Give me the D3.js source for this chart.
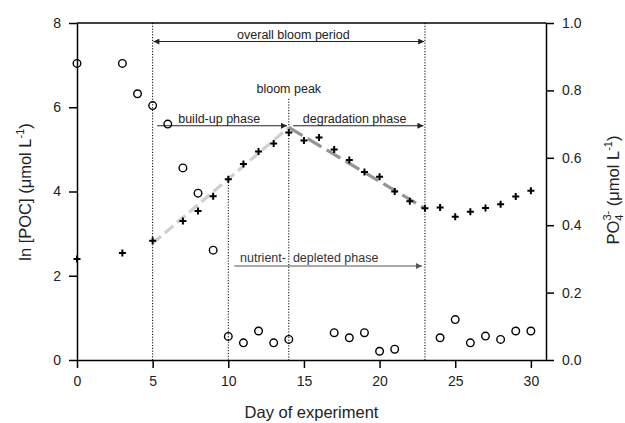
<!DOCTYPE html>
<html><head><meta charset="utf-8">
<script src="https://cdn.jsdelivr.net/npm/d3@7"></script>
<style>body{margin:0;background:#fff}svg{display:block}text{font-family:"Liberation Sans",Arial,sans-serif}</style>
</head><body>
<script>
// ---- data ----
const poDays = [0,3,4,5,6,7,8,9,10,11,12,13,14,17,18,19,20,21,24,25,26,27,28,29,30];
const poValues = [0.88,0.88,0.79,0.755,0.70,0.57,0.495,0.326,0.070,0.051,0.086,0.051,0.061,0.081,0.066,0.081,0.026,0.032,0.066,0.12,0.051,0.071,0.061,0.086,0.086];
const pocDays = [0,3,5,7,8,9,10,11,12,13,14,15,16,17,18,19,20,21,22,23,24,25,26,27,28,29,30];
const pocValues = [2.40,2.54,2.83,3.30,3.54,3.89,4.29,4.65,4.95,5.14,5.40,5.21,5.28,5.00,4.75,4.46,4.35,4.00,3.77,3.60,3.62,3.40,3.52,3.61,3.70,3.88,4.02];
const buildUpFit = [[5,2.77],[14,5.52]];
const degradationFit = [[14,5.52],[23,3.60]];
const xTicks = [0,5,10,15,20,25,30];
const yLeftTicks = [0,2,4,6,8];
const yRightTicks = [0,0.2,0.4,0.6,0.8,1.0];
// phase markers: [day, top value on left axis]
const phaseLines = [[5,8],[10,4.29],[14,6.2],[23,8]];

const W=625,H=423;
const svg=d3.select("body").append("svg").attr("width",W).attr("height",H);
const x=d3.scaleLinear().domain([0,31]).range([77,546]);
const yL=d3.scaleLinear().domain([0,8]).range([360,23]);
const yR=d3.scaleLinear().domain([0,1]).range([360,23]);

const defs=svg.append("defs");
function marker(id,color){
  defs.append("marker").attr("id",id).attr("viewBox","0 0 10 10").attr("refX",10).attr("refY",5)
   .attr("markerWidth",7).attr("markerHeight",6).attr("markerUnits","userSpaceOnUse").attr("orient","auto-start-reverse")
   .append("path").attr("d","M0,0L10,5L0,10Z").attr("fill",color);
}
marker("ah","#222");
marker("ahg","#555");

// phase dotted lines
svg.append("g").selectAll("line").data(phaseLines).join("line")
  .attr("x1",d=>x(d[0])).attr("x2",d=>x(d[0])).attr("y1",d=>yL(d[1])).attr("y2",yL(0))
  .attr("stroke","#000").attr("stroke-width",1).attr("stroke-dasharray","1.2,1.6");

// fits
const line=d3.line().x(d=>x(d[0])).y(d=>yL(d[1]));
svg.append("path").datum(buildUpFit).attr("d",line).attr("fill","none").attr("stroke","#cfcfcf").attr("stroke-width",3.2).attr("stroke-dasharray","11,5");
svg.append("path").datum(degradationFit).attr("d",line).attr("fill","none").attr("stroke","#959595").attr("stroke-width",3.2).attr("stroke-dasharray","16,6");

// annotations
function arrow(x1,x2,y,both,color,mk){
  const l=svg.append("line").attr("x1",x(x1)).attr("x2",x(x2)).attr("y1",yL(y)).attr("y2",yL(y))
   .attr("stroke",color).attr("stroke-width",1.1).attr("marker-end",`url(#${mk})`);
  if(both) l.attr("marker-start",`url(#${mk})`);
}
function label(t,xv,yv,color){
  svg.append("text").attr("x",x(xv)).attr("y",yL(yv)).attr("text-anchor","middle").attr("dy","0.35em")
   .attr("font-size",12.5).attr("fill",color).style("white-space","pre").text(t);
}
arrow(5.05,22.95,7.56,true,"#222","ah");
label("overall bloom period",14.3,7.72,"#222");
label("bloom peak",14.0,6.45,"#222");
arrow(5.3,13.88,5.56,false,"#222","ah");
label("build-up phase",9.4,5.74,"#222");
arrow(14.28,22.9,5.56,false,"#222","ah");
label("degradation phase",18.35,5.74,"#222");
arrow(10.4,22.8,2.23,false,"#555","ahg");
label("nutrient-  depleted phase",15.35,2.44,"#333");

// PO4 circles
svg.append("g").selectAll("circle").data(poDays).join("circle")
  .attr("cx",d=>x(d)).attr("cy",(d,i)=>yR(poValues[i])).attr("r",3.8)
  .attr("fill","none").attr("stroke","#000").attr("stroke-width",1.4);
// POC crosses
svg.append("g").selectAll("path").data(pocDays).join("path")
  .attr("d",(d,i)=>{const cx=x(d),cy=yL(pocValues[i]);return `M${cx-3.5},${cy}H${cx+3.5}M${cx},${cy-3.5}V${cy+3.5}`;})
  .attr("stroke","#000").attr("stroke-width",2);

// axes
function styleAxis(g){
  g.selectAll(".domain").attr("stroke","#000").attr("stroke-width",1.5);
  g.selectAll(".tick line").attr("stroke","#000").attr("stroke-width",1.5);
  g.selectAll(".tick text").attr("font-size",14).attr("fill","#222").attr("font-family","Liberation Sans, Arial, sans-serif");
}
svg.append("g").attr("transform",`translate(0,${yL(0)})`)
  .call(d3.axisBottom(x).tickValues(xTicks).tickSize(8).tickSizeOuter(0).tickPadding(8)).call(styleAxis);
svg.append("g").attr("transform",`translate(${x(0)},0)`)
  .call(d3.axisLeft(yL).tickValues(yLeftTicks).tickSize(8).tickSizeOuter(0).tickPadding(8)).call(styleAxis);
svg.append("g").attr("transform",`translate(${x(31)},0)`)
  .call(d3.axisRight(yR).tickValues(yRightTicks).tickFormat(d3.format(".1f")).tickSize(8).tickSizeOuter(0).tickPadding(8)).call(styleAxis);
svg.append("line").attr("x1",x(0)).attr("x2",x(31)).attr("y1",yL(8)).attr("y2",yL(8)).attr("stroke","#000").attr("stroke-width",1.5);

// titles
svg.append("text").attr("x",(x(0)+x(31))/2).attr("y",418).attr("text-anchor","middle").attr("font-size",16.5).attr("fill","#222").text("Day of experiment");
const lt=svg.append("text").attr("transform","translate(31,192) rotate(-90)").attr("text-anchor","middle").attr("font-size",16.5).attr("fill","#222");
lt.append("tspan").text("ln [POC] (μmol L");
lt.append("tspan").attr("dy",-7).attr("font-size",11).text("-1");
lt.append("tspan").attr("dy",7).text(")");
const rt=svg.append("text").attr("transform","translate(619,190) rotate(-90)").attr("text-anchor","middle").attr("font-size",16.5).attr("fill","#222");
rt.append("tspan").text("PO");
rt.append("tspan").attr("dy",4).attr("font-size",11).text("4");
rt.append("tspan").attr("dy",-12).attr("dx",-6).attr("font-size",11).text("3-");
rt.append("tspan").attr("dy",8).text(" (μmol L");
rt.append("tspan").attr("dy",-7).attr("font-size",11).text("-1");
rt.append("tspan").attr("dy",7).text(")");
</script>
</body></html>
